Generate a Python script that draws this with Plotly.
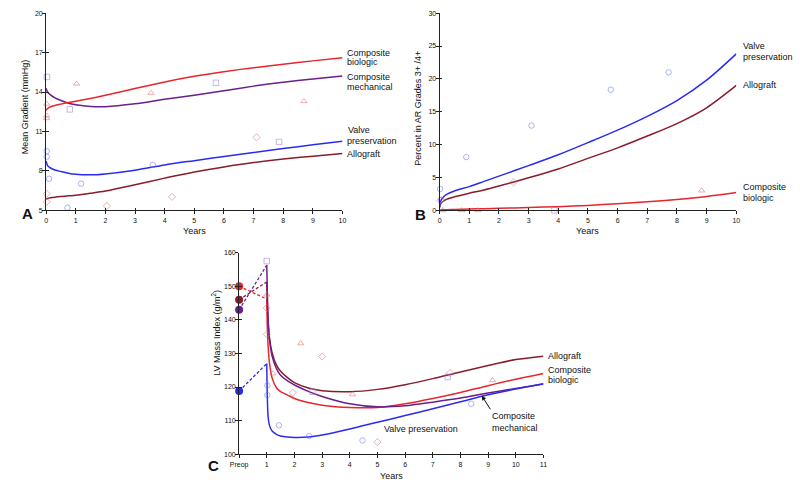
import plotly.graph_objects as go

# ---------------- Panel A: Mean gradient ----------------
A_YEARS = [0, 0.05, 0.15, 0.3, 0.5, 0.75, 1, 1.5, 2, 3, 4, 5, 6, 7, 8, 9, 10]
A_BIO = [12.6, 12.75, 12.88, 12.98, 13.08, 13.2, 13.3, 13.5, 13.75, 14.27, 14.77, 15.2, 15.55, 15.85, 16.12, 16.37, 16.6]
A_MECH = [14.3, 14.0, 13.78, 13.55, 13.35, 13.15, 13.03, 12.9, 12.88, 13.1, 13.45, 13.75, 14.1, 14.45, 14.75, 15.0, 15.22]
A_VALVE = [8.75, 8.4, 8.22, 8.07, 7.95, 7.82, 7.74, 7.7, 7.77, 8.05, 8.45, 8.78, 9.1, 9.4, 9.7, 9.98, 10.25]
A_ALLO = [5.85, 5.9, 5.95, 6.0, 6.05, 6.1, 6.15, 6.3, 6.47, 6.95, 7.45, 7.92, 8.3, 8.63, 8.9, 9.12, 9.32]

A_MECH_PX = [0.03, 0.8, 5.73, 7.86]
A_MECH_PY = [15.15, 12.68, 14.7, 10.2]
A_BIO_PX = [0.02, 0.02, 0.02, 1.03, 3.54, 8.7]
A_BIO_PY = [13.1, 12.2, 12.0, 14.63, 13.93, 13.3]
A_VALVE_PX = [0.02, 0.02, 0.1, 1.18, 3.6, 0.72]
A_VALVE_PY = [9.5, 9.08, 7.4, 7.03, 8.45, 5.2]
A_ALLO_PX = [0.02, 0.02, 2.05, 4.25, 7.1]
A_ALLO_PY = [6.25, 5.65, 5.33, 6.03, 10.55]

A_XTICKS = list(range(0, 11))
A_YTICKS = [5, 8, 11, 14, 17, 20]

# ---------------- Panel B: AR grades ----------------
B_YEARS = [0, 0.02, 0.1, 0.25, 0.5, 1, 1.5, 2, 3, 4, 5, 6, 7, 8, 9, 10]
B_VALVE = [0.5, 1.2, 1.9, 2.45, 2.95, 3.6, 4.4, 5.2, 6.8, 8.45, 10.3, 12.2, 14.3, 16.7, 19.8, 23.8]
B_ALLO = [0.4, 0.85, 1.3, 1.7, 2.05, 2.6, 3.1, 3.7, 4.95, 6.3, 7.9, 9.5, 11.3, 13.2, 15.6, 19.0]
B_BIO = [0.0, 0.03, 0.07, 0.1, 0.14, 0.2, 0.25, 0.3, 0.42, 0.56, 0.75, 1.0, 1.3, 1.65, 2.1, 2.7]

B_VALVE_PX = [0.02, 0.05, 0.9, 3.1, 5.77, 7.72]
B_VALVE_PY = [3.25, 1.6, 8.1, 12.9, 18.35, 21.0]
B_ALLO_PX = [0.02, 2.49]
B_ALLO_PY = [1.5, 4.25]
B_BIO_PX = [0.1, 0.74, 1.29, 8.83]
B_BIO_PY = [0, 0, 0, 3.0]
B_MECH_PX = [3.87]
B_MECH_PY = [0]

B_XTICKS = list(range(0, 11))
B_YTICKS = [0, 5, 10, 15, 20, 25, 30]

# ---------------- Panel C: LV mass index ----------------
C_YEARS = [1, 1.02, 1.05, 1.1, 1.2, 1.35, 1.5, 1.75, 2, 2.5, 3, 4, 5, 6, 7, 8, 9, 10, 11]
C_MECH = [156.3, 148, 140, 134, 129, 125.5, 123.5, 121.8, 120.6, 118.7, 117.2, 115.0, 114.1, 114.4, 115.5, 116.7, 118.2, 119.6, 120.9]
C_ALLO = [151.3, 145, 139, 134.5, 130, 126.5, 124.7, 122.8, 121.3, 119.7, 118.9, 118.6, 119.3, 120.7, 122.5, 124.5, 126.4, 128.2, 129.2]
C_BIO = [146.2, 138, 132, 127, 122.5, 119.8, 118.6, 117.6, 116.6, 115.4, 114.6, 113.9, 113.9, 115.0, 116.6, 118.4, 120.4, 122.3, 124.0]
C_VALVE = [127.0, 117, 111, 108.5, 106.8, 105.9, 105.4, 105.1, 105.0, 105.1, 105.7, 107.5, 109.5, 111.5, 113.5, 115.6, 117.7, 119.4, 121.0]

C_PREOP = {"bio": 150.0, "allo": 146.0, "mech": 143.0, "valve": 118.8}

C_MECH_PX = [1.0, 2.65, 7.54]
C_MECH_PY = [157.5, 118.6, 123.0]
C_BIO_PX = [1.0, 1.22, 2.23, 4.1, 9.16]
C_BIO_PY = [147.5, 124.0, 133.0, 117.8, 122.0]
C_ALLO_PX = [1.0, 1.0, 1.94, 3.0, 5.0, 7.62]
C_ALLO_PY = [143.5, 135.7, 118.3, 129.1, 103.6, 124.2]
C_VALVE_PX = [1.02, 1.02, 1.44, 2.53, 4.46, 8.39]
C_VALVE_PY = [120.5, 117.6, 108.6, 105.4, 104.1, 115.0]

C_XTICKS = list(range(0, 12))
C_XLABELS = ["Preop"] + [str(i) for i in range(1, 12)]
C_YTICKS = [100, 110, 120, 130, 140, 150, 160]

# ---------------- styles ----------------
W, H = 800, 491
COL = {"bio": "#e8252b", "mech": "#6b1f8c", "valve": "#2b2bf0", "allo": "#8a1c2c"}
PT = {"bio": "rgba(225,110,110,0.55)", "mech": "rgba(170,130,210,0.6)",
      "valve": "rgba(110,120,240,0.55)", "allo": "rgba(200,120,120,0.55)"}
SYM = {"bio": "triangle-up-open", "mech": "square-open", "valve": "circle-open", "allo": "diamond-open"}
FONT = "'Liberation Sans', Arial, Helvetica, sans-serif"


def px(x):
    return x / W


def py(y):
    return 1 - y / H


fig = go.Figure()


def add_line(x, y, key, xa, ya, dash=None, width=1.5):
    fig.add_trace(go.Scatter(x=x, y=y, mode="lines", xaxis=xa, yaxis=ya,
                             line=dict(color=COL[key], width=width, shape="spline", smoothing=0.8,
                                       dash=dash),
                             showlegend=False, hoverinfo="skip"))


def add_pts(x, y, key, xa, ya):
    fig.add_trace(go.Scatter(x=x, y=y, mode="markers", xaxis=xa, yaxis=ya, cliponaxis=False,
                             marker=dict(symbol=SYM[key], size=5.5, color=PT[key], line=dict(width=1, color=PT[key])),
                             showlegend=False, hoverinfo="skip"))


# Panel A
for key, arr in [("allo", A_ALLO), ("valve", A_VALVE), ("mech", A_MECH), ("bio", A_BIO)]:
    add_line(A_YEARS, arr, key, "x", "y")
add_pts(A_MECH_PX, A_MECH_PY, "mech", "x", "y")
add_pts(A_BIO_PX, A_BIO_PY, "bio", "x", "y")
add_pts(A_VALVE_PX, A_VALVE_PY, "valve", "x", "y")
add_pts(A_ALLO_PX, A_ALLO_PY, "allo", "x", "y")

# Panel B
for key, arr in [("allo", B_ALLO), ("valve", B_VALVE), ("bio", B_BIO)]:
    add_line(B_YEARS, arr, key, "x2", "y2")
add_pts(B_VALVE_PX, B_VALVE_PY, "valve", "x2", "y2")
add_pts(B_ALLO_PX, B_ALLO_PY, "allo", "x2", "y2")
add_pts(B_BIO_PX, B_BIO_PY, "bio", "x2", "y2")
add_pts(B_MECH_PX, B_MECH_PY, "mech", "x2", "y2")

# Panel C
for key, arr in [("allo", C_ALLO), ("bio", C_BIO), ("mech", C_MECH), ("valve", C_VALVE)]:
    fig.add_trace(go.Scatter(x=[0, 1], y=[C_PREOP[key], arr[0]], mode="lines", xaxis="x3", yaxis="y3",
                             line=dict(color=COL[key], width=1.3, dash="3px,2px"),
                             showlegend=False, hoverinfo="skip"))
for key, arr in [("allo", C_ALLO), ("bio", C_BIO), ("mech", C_MECH), ("valve", C_VALVE)]:
    add_line(C_YEARS, arr, key, "x3", "y3")
add_pts(C_MECH_PX, C_MECH_PY, "mech", "x3", "y3")
add_pts(C_BIO_PX, C_BIO_PY, "bio", "x3", "y3")
add_pts(C_ALLO_PX, C_ALLO_PY, "allo", "x3", "y3")
add_pts(C_VALVE_PX, C_VALVE_PY, "valve", "x3", "y3")
for key in ["bio", "allo", "mech", "valve"]:
    fig.add_trace(go.Scatter(x=[0], y=[C_PREOP[key]], mode="markers", xaxis="x3", yaxis="y3", cliponaxis=False,
                             marker=dict(symbol="circle", size=8, color=COL[key]),
                             showlegend=False, hoverinfo="skip"))

# dummy traces so the inside-tick overlay axes are drawn
for xa, ya in [("x4", "y"), ("x", "y4"), ("x5", "y2"), ("x2", "y5"), ("x6", "y3"), ("x3", "y6")]:
    fig.add_trace(go.Scatter(x=[None], y=[None], xaxis=xa, yaxis=ya, showlegend=False, hoverinfo="skip"))

AX = dict(showline=True, linecolor="#222", linewidth=1, ticks="outside", ticklen=3, tickwidth=1,
          tickcolor="#222", showgrid=False, zeroline=False, tickmode="array",
          tickfont=dict(size=7, color="#111", family=FONT))
AXY = dict(AX, ticklabelstandoff=-2)
OV = dict(showline=False, ticks="inside", ticklen=2.5, tickwidth=1, tickcolor="#222",
          showgrid=False, zeroline=False, showticklabels=False, tickmode="array")

domA_x = [px(37.7), px(339)]
domB_x = [px(437.7), px(739.3)]
dom_top = [py(209.3), py(9.3)]
domC_x = [px(233.9), px(543.3)]
domC_y = [py(456.7), py(252.3)]

fig.update_layout(
    width=W, height=H, margin=dict(l=0, r=0, t=0, b=0),
    paper_bgcolor="white", plot_bgcolor="white", showlegend=False,
    font=dict(family=FONT, color="#111"),
    xaxis=dict(AX, domain=domA_x, anchor="y", range=[0, 10], tickvals=A_XTICKS),
    yaxis=dict(AXY, domain=dom_top, anchor="x", range=[5, 20], tickvals=A_YTICKS),
    xaxis2=dict(AX, domain=domB_x, anchor="y2", range=[0, 10], tickvals=B_XTICKS),
    yaxis2=dict(AXY, domain=dom_top, anchor="x2", range=[0, 30], tickvals=B_YTICKS),
    xaxis3=dict(AX, domain=domC_x, anchor="y3", range=[0, 11], tickvals=C_XTICKS, ticktext=C_XLABELS),
    yaxis3=dict(AXY, domain=domC_y, anchor="x3", range=[100, 160], tickvals=C_YTICKS),
    xaxis4=dict(OV, overlaying="x", anchor="y", range=[0, 10], tickvals=A_XTICKS),
    yaxis4=dict(OV, overlaying="y", anchor="x", range=[5, 20], tickvals=A_YTICKS),
    xaxis5=dict(OV, overlaying="x2", anchor="y2", range=[0, 10], tickvals=B_XTICKS),
    yaxis5=dict(OV, overlaying="y2", anchor="x2", range=[0, 30], tickvals=B_YTICKS),
    xaxis6=dict(OV, overlaying="x3", anchor="y3", range=[0, 11], tickvals=C_XTICKS),
    yaxis6=dict(OV, overlaying="y3", anchor="x3", range=[100, 160], tickvals=C_YTICKS),
)

ann = []


def txt(t, x, y, size=9, xanchor="left", angle=0, bold=False):
    ann.append(dict(text=("<b>%s</b>" % t) if bold else t, x=px(x), y=py(y), xref="paper", yref="paper",
                    xanchor=xanchor, yanchor="middle", showarrow=False, textangle=angle,
                    font=dict(size=size, family=FONT, color="#111")))


# curve labels
for t, x, y in [("Composite", 342, 49.3), ("biologic", 342, 59.3), ("Composite", 342, 74),
                ("mechanical", 342, 84), ("Valve", 343, 127.7), ("preservation", 342, 138.7),
                ("Allograft", 342, 152),
                ("Valve", 744, 42.7), ("preservation", 744, 54), ("Allograft", 744, 81.7),
                ("Composite", 744, 185.3), ("biologic", 744, 196.3),
                ("Allograft", 546, 357), ("Composite", 546, 371), ("biologic", 546, 381.7),
                ("Valve preservation", 379, 431)]:
    txt(t, x, y)

# axis titles
txt("Years", 188.3, 230, xanchor="center")
txt("Years", 588.5, 230, xanchor="center")
txt("Years", 388.6, 479, xanchor="center")
txt("Mean Gradient (mmHg)", 16, 104, xanchor="center", angle=-90)
txt("Percent in AR Grades 3+ /4+", 416, 106, xanchor="center", angle=-90)
txt("LV Mass Index (g/m<sup>2</sup>)", 211, 334, xanchor="center", angle=-90)

# panel letters
txt("A", 11, 213, size=15, bold=True)
txt("B", 411, 214, size=15, bold=True)
txt("C", 200, 468, size=15, bold=True)

# "Composite mechanical" label with arrow pointing at its curve in panel C
ann.append(dict(text="Composite<br>mechanical", align="left", x=8.77, y=117.4, xref="x3", yref="y3",
                showarrow=True, ax=8.6, ay=13.5, xanchor="left", yanchor="top",
                arrowhead=2, arrowsize=0.9, arrowwidth=1, arrowcolor="#111",
                font=dict(size=9, family=FONT, color="#111")))

fig.update_layout(annotations=ann)
fig.write_html("out.html", config={"displayModeBar": False},
               post_script="document.body.style.margin='0';document.body.style.overflow='hidden';")
